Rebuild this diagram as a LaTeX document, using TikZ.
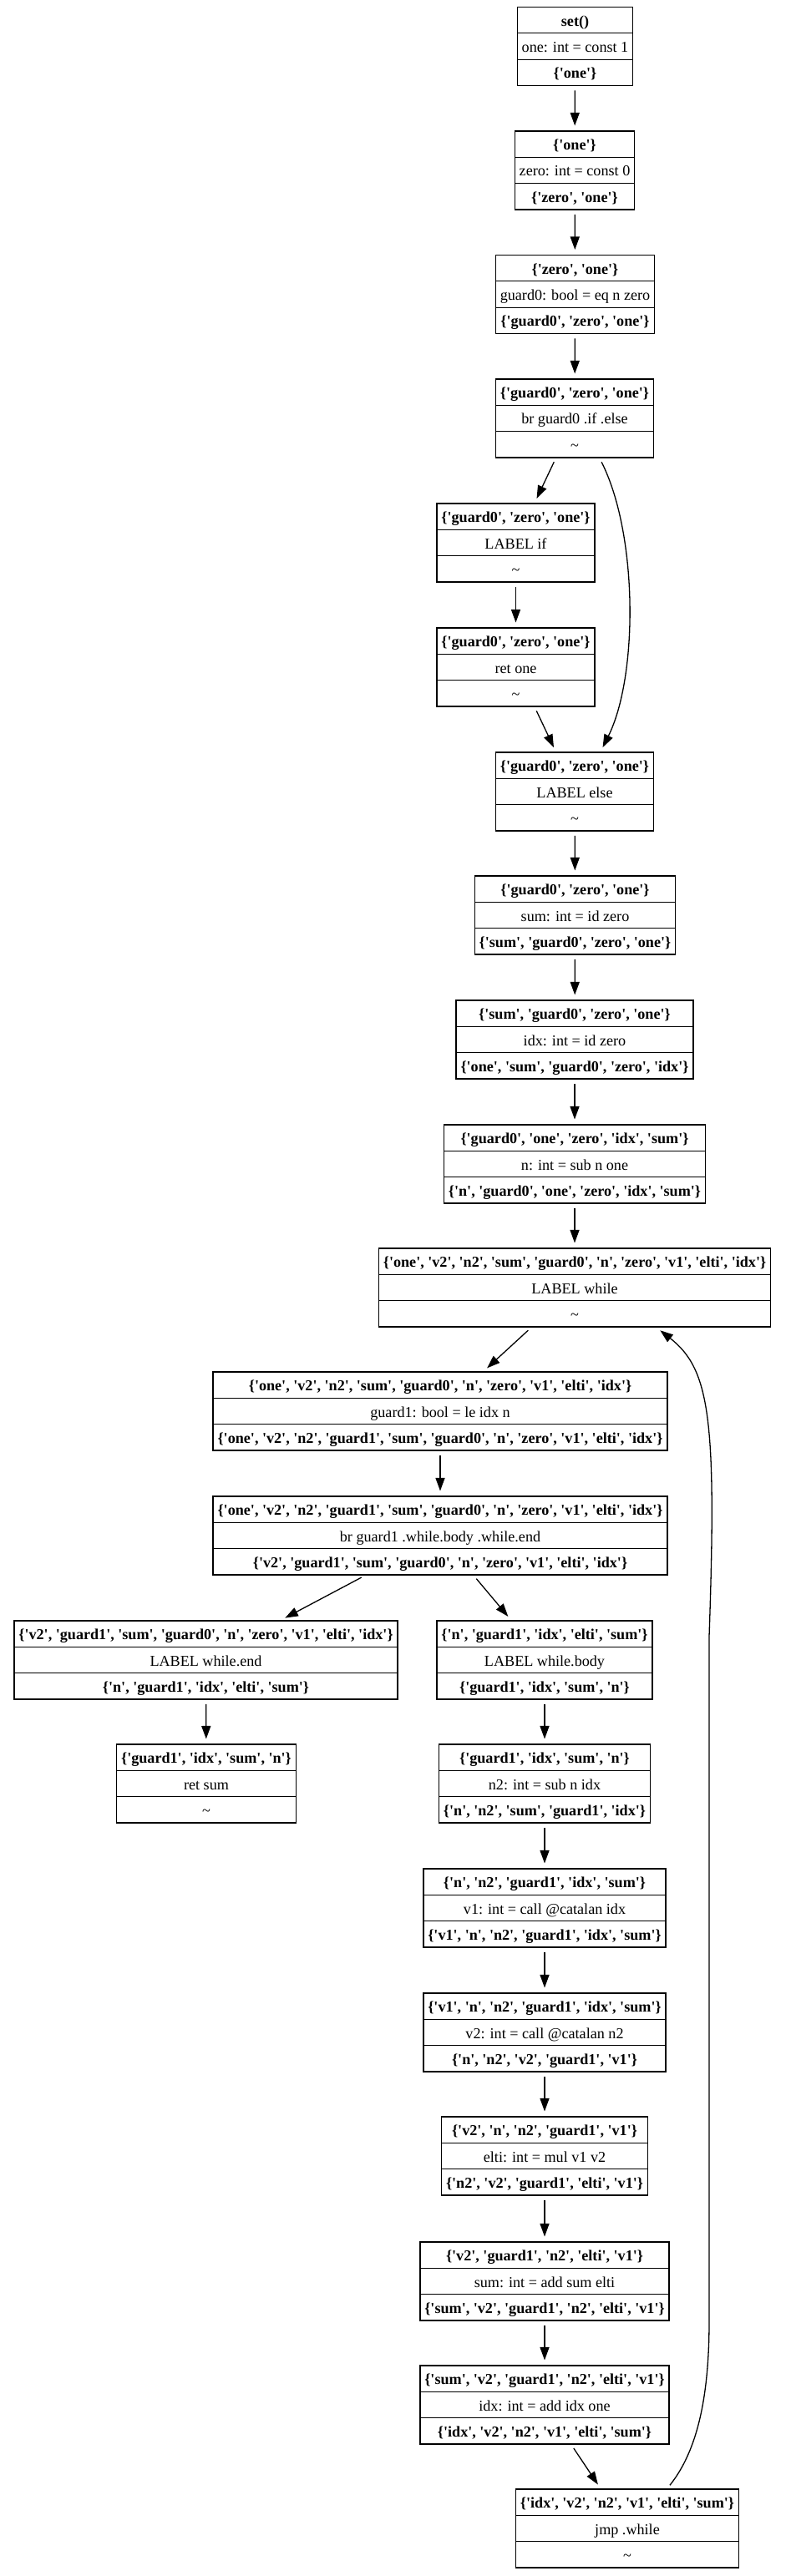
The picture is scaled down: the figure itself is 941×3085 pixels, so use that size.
\documentclass[tikz,border=0pt]{standalone}
\usepackage{fontspec}
\newfontfamily\dotfont{Liberation Serif}
\usetikzlibrary{shapes.multipart,arrows.meta}
\newcommand{\rowstrut}{\rule[-4.2pt]{0pt}{19.2pt}}
\newcommand{\rows}[3]{\rowstrut#1\nodepart{two}\rowstrut#2\nodepart{three}\rowstrut#3}

\begin{document}
\begin{tikzpicture}[x=0.772pt,y=-0.772pt,
        blk/.style={draw, line width=1pt, rectangle split, rectangle split parts=3,
            inner xsep=4.2pt, inner ysep=2pt,
            font=\dotfont\fontsize{14}{16}\selectfont},
        edge/.style={-{Triangle[length=12pt,width=8.5pt]}, line width=1pt,
            shorten <=4pt, shorten >=4.5pt}]
            \useasboundingbox (0,0) rectangle (941,3085);

            \node[blk] (nset) at (688.5,55.5) {\rows{\textbf{set()}}{one: int = const 1}{\textbf{\{'one'\}}}};
            \node[blk] (nzero) at (688,204) {\rows{\textbf{\{'one'\}}}{zero: int = const 0}{\textbf{\{'zero', 'one'\}}}};
            \node[blk] (nguard0) at (688.5,352.5) {\rows{\textbf{\{'zero', 'one'\}}}{guard0: bool = eq n zero}{\textbf{\{'guard0', 'zero', 'one'\}}}};
            \node[blk] (nbr0) at (688,501) {\rows{\textbf{\{'guard0', 'zero', 'one'\}}}{br guard0 .if .else}{\textasciitilde}};
            \node[blk] (nif) at (617.5,650) {\rows{\textbf{\{'guard0', 'zero', 'one'\}}}{LABEL if}{\textasciitilde}};
            \node[blk] (nretone) at (617.5,799) {\rows{\textbf{\{'guard0', 'zero', 'one'\}}}{ret one}{\textasciitilde}};
            \node[blk] (nelse) at (688,948) {\rows{\textbf{\{'guard0', 'zero', 'one'\}}}{LABEL else}{\textasciitilde}};
            \node[blk] (nsum) at (688.5,1096) {\rows{\textbf{\{'guard0', 'zero', 'one'\}}}{sum: int = id zero}{\textbf{\{'sum', 'guard0', 'zero', 'one'\}}}};
            \node[blk] (nidx) at (688,1245) {\rows{\textbf{\{'sum', 'guard0', 'zero', 'one'\}}}{idx: int = id zero}{\textbf{\{'one', 'sum', 'guard0', 'zero', 'idx'\}}}};
            \node[blk] (nn) at (688,1394) {\rows{\textbf{\{'guard0', 'one', 'zero', 'idx', 'sum'\}}}{n: int = sub n one}{\textbf{\{'n', 'guard0', 'one', 'zero', 'idx', 'sum'\}}}};
            \node[blk] (nwhile) at (688,1542) {\rows{\textbf{\{'one', 'v2', 'n2', 'sum', 'guard0', 'n', 'zero', 'v1', 'elti', 'idx'\}}}{LABEL while}{\textasciitilde}};
            \node[blk] (nguard1) at (527,1690) {\rows{\textbf{\{'one', 'v2', 'n2', 'sum', 'guard0', 'n', 'zero', 'v1', 'elti', 'idx'\}}}{guard1: bool = le idx n}{\textbf{\{'one', 'v2', 'n2', 'guard1', 'sum', 'guard0', 'n', 'zero', 'v1', 'elti', 'idx'\}}}};
            \node[blk] (nbr1) at (527,1839) {\rows{\textbf{\{'one', 'v2', 'n2', 'guard1', 'sum', 'guard0', 'n', 'zero', 'v1', 'elti', 'idx'\}}}{br guard1 .while.body .while.end}{\textbf{\{'v2', 'guard1', 'sum', 'guard0', 'n', 'zero', 'v1', 'elti', 'idx'\}}}};
            \node[blk] (nend) at (246.5,1988) {\rows{\textbf{\{'v2', 'guard1', 'sum', 'guard0', 'n', 'zero', 'v1', 'elti', 'idx'\}}}{LABEL while.end}{\textbf{\{'n', 'guard1', 'idx', 'elti', 'sum'\}}}};
            \node[blk] (nbody) at (652,1988) {\rows{\textbf{\{'n', 'guard1', 'idx', 'elti', 'sum'\}}}{LABEL while.body}{\textbf{\{'guard1', 'idx', 'sum', 'n'\}}}};
            \node[blk] (nretsum) at (247,2136) {\rows{\textbf{\{'guard1', 'idx', 'sum', 'n'\}}}{ret sum}{\textasciitilde}};
            \node[blk] (nn2) at (652,2136) {\rows{\textbf{\{'guard1', 'idx', 'sum', 'n'\}}}{n2: int = sub n idx}{\textbf{\{'n', 'n2', 'sum', 'guard1', 'idx'\}}}};
            \node[blk] (nv1) at (652,2285) {\rows{\textbf{\{'n', 'n2', 'guard1', 'idx', 'sum'\}}}{v1: int = call @catalan idx}{\textbf{\{'v1', 'n', 'n2', 'guard1', 'idx', 'sum'\}}}};
            \node[blk] (nv2) at (652,2434) {\rows{\textbf{\{'v1', 'n', 'n2', 'guard1', 'idx', 'sum'\}}}{v2: int = call @catalan n2}{\textbf{\{'n', 'n2', 'v2', 'guard1', 'v1'\}}}};
            \node[blk] (nelti) at (652,2582) {\rows{\textbf{\{'v2', 'n', 'n2', 'guard1', 'v1'\}}}{elti: int = mul v1 v2}{\textbf{\{'n2', 'v2', 'guard1', 'elti', 'v1'\}}}};
            \node[blk] (nsumadd) at (652,2732) {\rows{\textbf{\{'v2', 'guard1', 'n2', 'elti', 'v1'\}}}{sum: int = add sum elti}{\textbf{\{'sum', 'v2', 'guard1', 'n2', 'elti', 'v1'\}}}};
            \node[blk] (nidxadd) at (652,2880) {\rows{\textbf{\{'sum', 'v2', 'guard1', 'n2', 'elti', 'v1'\}}}{idx: int = add idx one}{\textbf{\{'idx', 'v2', 'n2', 'v1', 'elti', 'sum'\}}}};
            \node[blk] (njmp) at (751,3028) {\rows{\textbf{\{'idx', 'v2', 'n2', 'v1', 'elti', 'sum'\}}}{jmp .while}{\textasciitilde}};

            % straight edges
            \draw[edge] (nset) -- (nzero);
            \draw[edge] (nzero) -- (nguard0);
            \draw[edge] (nguard0) -- (nbr0);
            \draw[edge] (nbr0) -- (nif);
            \draw[edge] (nif) -- (nretone);
            \draw[edge] (nretone) -- (nelse);
            \draw[edge] (nelse) -- (nsum);
            \draw[edge] (nsum) -- (nidx);
            \draw[edge] (nidx) -- (nn);
            \draw[edge] (nn) -- (nwhile);
            \draw[edge] (nwhile) -- (nguard1);
            \draw[edge] (nguard1) -- (nbr1);
            \draw[edge] (nbr1) -- (nend);
            \draw[edge] (nbr1) -- (nbody);
            \draw[edge] (nend) -- (nretsum);
            \draw[edge] (nbody) -- (nn2);
            \draw[edge] (nn2) -- (nv1);
            \draw[edge] (nv1) -- (nv2);
            \draw[edge] (nv2) -- (nelti);
            \draw[edge] (nelti) -- (nsumadd);
            \draw[edge] (nsumadd) -- (nidxadd);
            \draw[edge] (nidxadd) -- (njmp);

            % curved edges
            \draw[edge] (nbr0.-58) .. controls (764,640) and (764,810) .. (nelse.57);
            \draw[edge] (njmp.45) .. controls (835,2935) and (849,2870) .. (849,2780) -- (849,1960)
                .. controls (858,1700) and (850,1640) .. (nwhile.-26);
        \end{tikzpicture}
\end{document}
